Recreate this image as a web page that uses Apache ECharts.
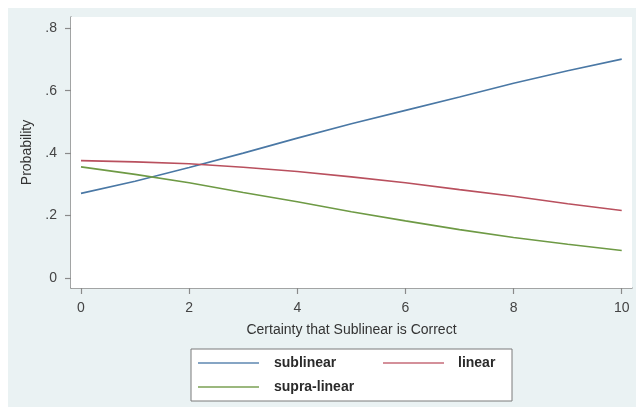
<!DOCTYPE html>
<html>
<head>
<meta charset="utf-8">
<script src="https://cdn.jsdelivr.net/npm/echarts@6/dist/echarts.min.js"></script>
<style>
html,body{margin:0;padding:0;background:#fff;}
#chart{width:639px;height:412px;}
</style>
</head>
<body>
<div id="chart"></div>
<script>
const xValues = [0, 1, 2, 3, 4, 5, 6, 7, 8, 9, 10];
const sublinear = [0.271, 0.310, 0.354, 0.400, 0.448, 0.494, 0.537, 0.580, 0.624, 0.664, 0.701];
const linear = [0.376, 0.372, 0.366, 0.355, 0.341, 0.324, 0.305, 0.283, 0.262, 0.238, 0.216];
const supraLinear = [0.356, 0.332, 0.305, 0.274, 0.244, 0.212, 0.183, 0.155, 0.130, 0.108, 0.088];
const xTicks = [0, 2, 4, 6, 8, 10];
const yTicks = [0, 0.2, 0.4, 0.6, 0.8];
const seriesNames = ['sublinear', 'linear', 'supra-linear'];

const toPairs = arr => xValues.map((x, i) => [x, arr[i]]);
const fmtY = v => {
  if (Math.abs(v) < 1e-9) return '0';
  return String(Math.round(v * 10) / 10).replace(/^0\./, '.');
};

const chart = echarts.init(document.getElementById('chart'), null, {renderer: 'canvas'});
const FONT = 'Liberation Sans';
const legendText = {fontFamily: FONT, fontSize: 14, fontWeight: 'bold', color: '#2a2a2a', lineHeight: 16, padding: [0, 0, 0, 10]};
const option = {
  backgroundColor: '#ffffff',
  animation: false,
  graphic: [
    {type: 'rect', z: -100, silent: true, shape: {x: 8, y: 8, width: 628, height: 399}, style: {fill: '#eaf2f3'}},
    {type: 'rect', z: 50, silent: true, shape: {x: 191, y: 349, width: 321, height: 52}, style: {fill: '#ffffff', stroke: '#7a7a7a', lineWidth: 1}}
  ],
  grid: {left: 71, top: 17, right: 7, bottom: 124, show: true, backgroundColor: '#ffffff', borderWidth: 0, z: 1},
  xAxis: {
    type: 'value', min: -0.185, max: 10.19,
    name: 'Certainty that Sublinear is Correct', nameLocation: 'middle', nameGap: 35,
    nameTextStyle: {fontFamily: FONT, fontSize: 14, color: '#333'},
    axisLine: {show: true, onZero: false, lineStyle: {color: '#8a8a8a', width: 1.5}},
    axisTick: {show: true, length: 6, customValues: xTicks, lineStyle: {color: '#8a8a8a', width: 1.2}},
    axisLabel: {customValues: xTicks, margin: 13, fontFamily: FONT, fontSize: 14, color: '#444', formatter: v => String(v)},
    splitLine: {show: false}
  },
  yAxis: {
    type: 'value', min: -0.032, max: 0.836,
    name: 'Probability', nameLocation: 'middle', nameGap: 37, nameRotate: 90,
    nameTextStyle: {fontFamily: FONT, fontSize: 14, color: '#333'},
    axisLine: {show: true, onZero: false, lineStyle: {color: '#8a8a8a', width: 1.5}},
    axisTick: {show: true, length: 6, customValues: yTicks, lineStyle: {color: '#8a8a8a', width: 1.2}},
    axisLabel: {customValues: yTicks, margin: 14, fontFamily: FONT, fontSize: 14, color: '#444', formatter: v => fmtY(v)},
    splitLine: {show: true, lineStyle: {color: '#e6eef0', width: 1}}
  },
  legend: [
    {
      data: [
        {name: seriesNames[0], icon: 'rect', itemStyle: {color: '#86a5c4'}},
        {name: seriesNames[2], icon: 'rect', itemStyle: {color: '#9bb87e'}}
      ],
      orient: 'vertical', left: 198, top: 355, padding: 0,
      itemWidth: 61, itemHeight: 2, itemGap: 8, z: 60,
      textStyle: legendText
    },
    {
      data: [{name: seriesNames[1], icon: 'rect', itemStyle: {color: '#d4909a'}}],
      orient: 'vertical', left: 383, top: 355, padding: 0,
      itemWidth: 61, itemHeight: 2, itemGap: 8, z: 60,
      textStyle: Object.assign({}, legendText, {padding: [0, 0, 0, 9]})
    }
  ],
  series: [
    {name: seriesNames[0], type: 'line', data: toPairs(sublinear), symbol: 'none', lineStyle: {color: '#4a78a5', width: 1.6}, itemStyle: {color: '#4a78a5'}},
    {name: seriesNames[1], type: 'line', data: toPairs(linear), symbol: 'none', lineStyle: {color: '#b9505e', width: 1.6}, itemStyle: {color: '#b9505e'}},
    {name: seriesNames[2], type: 'line', data: toPairs(supraLinear), symbol: 'none', lineStyle: {color: '#6e9a45', width: 1.6}, itemStyle: {color: '#6e9a45'}}
  ]
};
chart.setOption(option);
</script>
</body>
</html>
